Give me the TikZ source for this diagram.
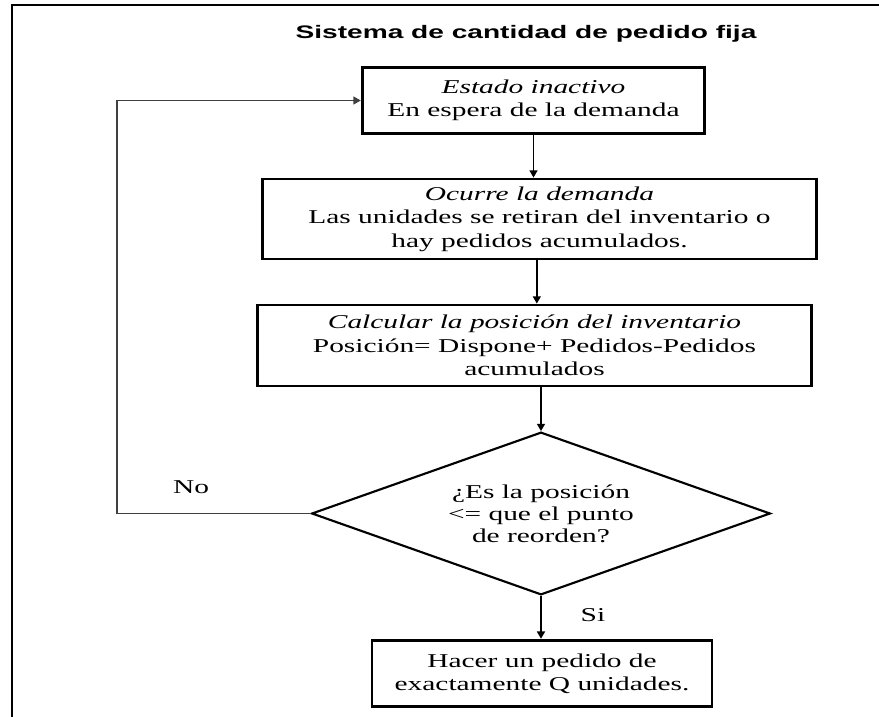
\documentclass[tikz,border=0pt]{standalone}
\usepackage{fontspec}
\setmainfont{Liberation Serif}[FakeStretch=1.5]
\newfontfamily\titlefont{Liberation Sans}[FakeStretch=1.55]
\usetikzlibrary{arrows.meta, positioning, shapes.geometric}

\tikzset{
    stepbox/.style={draw, line width=2.1pt, align=center, inner sep=0pt,
        font=\fontsize{14.7}{17.5}\selectfont},
    askbox/.style={draw, diamond, line width=1.6pt, align=center, inner sep=0pt, aspect=2.8,
        minimum width=344pt, minimum height=122pt, font=\fontsize{14.7}{16.5}\selectfont},
    flow/.style={line width=1.2pt, -{Triangle[length=5.5pt, width=6pt]}},
    lbl/.style={font=\fontsize{14.7}{16.5}\selectfont}
}

\begin{document}
\begin{tikzpicture}[x=0.75pt, y=-0.75pt]
    \useasboundingbox (0,0) rectangle (879,717);
    % frame
    \draw[line width=1.5pt] (12,717) -- (12,5) -- (879,5);
    \node[anchor=base] (title) at (526,39) {\titlefont\fontsize{13.6}{16}\selectfont\bfseries Sistema de cantidad de pedido fija};

    \node[stepbox, minimum width=257pt, minimum height=50pt] (idle) at (533.5,100.5)
        {\textit{Estado inactivo}\\En espera de la demanda};
    \node[stepbox, minimum width=416pt, minimum height=60pt] (demand) at (539.5,219)
        {\textit{Ocurre la demanda}\\Las unidades se retiran del inventario o\\hay pedidos acumulados.};
    \node[stepbox, minimum width=415pt, minimum height=60.75pt] (calc) at (534.5,345.5)
        {\textit{Calcular la posición del inventario}\\Posición= Dispone+ Pedidos-Pedidos\\acumulados};
    \node[askbox] (check) at (541,513.5)
        {¿Es la posición\\<= que el punto\\de reorden?};
    \node[stepbox, minimum width=255pt, minimum height=50pt] (order) at (542,673.5)
        {Hacer un pedido de\\exactamente Q unidades.};

    \coordinate (back) at (117,100.5);

    \draw[flow] (idle.south) -- (idle.south |- demand.north);
    \draw[flow] ([xshift=-2pt]demand.south) -- ([xshift=-2pt]demand.south |- calc.north);
    \draw[flow] (check.north |- calc.south) -- (check.north);
    \draw[flow] (check.south) -- (check.south |- order.north);
    \draw[flow, line width=0.9pt, draw=black!75] (check.west) -| (back) -- (idle.west);

    \node[lbl] (no) at (191,487) {No};
    \node[lbl] (yes) at (593,615) {Si};
\end{tikzpicture}
\end{document}
